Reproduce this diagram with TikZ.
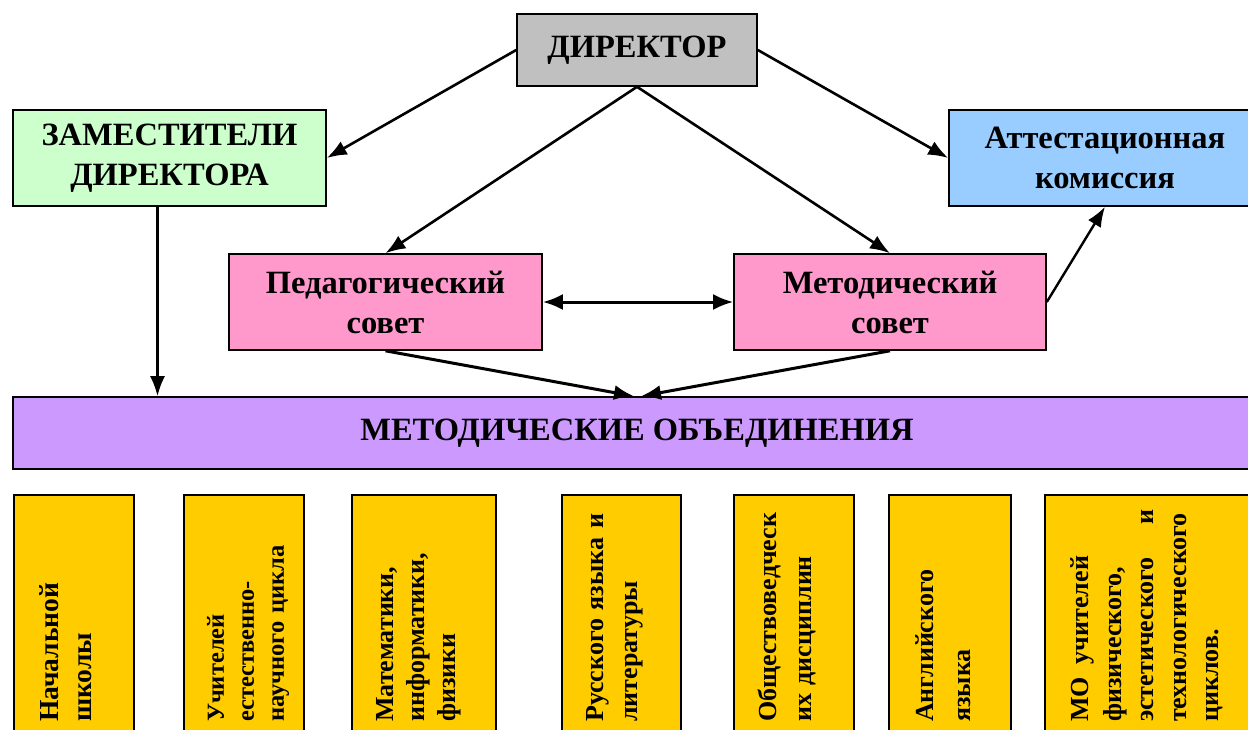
\documentclass[tikz,border=0pt]{standalone}
\usepackage{fontspec}
\setmainfont{Liberation Serif}
\usepackage{xcolor}
\usepackage{tikz}
\usetikzlibrary{positioning, calc, arrows.meta}
\definecolor{DirGray}{RGB}{192,192,192}
\definecolor{ZamGreen}{RGB}{204,255,204}
\definecolor{AttBlue}{RGB}{153,204,255}
\definecolor{SovPink}{RGB}{255,153,204}
\definecolor{ObViolet}{RGB}{204,153,255}
\definecolor{MoYellow}{RGB}{255,204,0}
\tikzset{
    topbox/.style={
        draw, line width=1.6pt, minimum width=313pt, minimum height=96pt,
        inner sep=0pt, align=center, font=\fontsize{32.5}{40}\selectfont\bfseries
    },
    mobox/.style={
        draw, line width=1.6pt, fill=MoYellow, minimum height=300pt,
        anchor=north west, inner sep=0pt
    },
    motext/.style={
        rotate=90, anchor=west, inner sep=0pt, text width=#1, align=left
    },
    motext/.default=212pt,
    mofont/.style={
        font=\fontsize{26}{#1}\selectfont\bfseries
    },
    ptr/.style={
        -{Latex[length=20pt,width=15pt]}, line width=2.6pt
    },
    dblptr/.style={
        {Latex[length=20pt,width=16pt]}-{Latex[length=20pt,width=16pt]}, line width=3pt
    }
}

\begin{document}
\begin{tikzpicture}[x=1pt, y=-1pt]
    \useasboundingbox (0,0) rectangle (1248,729);
    \clip (0,0) rectangle (1248,729);
    % top levels
    \node[topbox, fill=DirGray, minimum width=240pt, minimum height=72pt] (dir) at (637,50) {ДИРЕКТОР};
    \node[topbox, fill=ZamGreen] (zam) at (169.5,158) {ЗАМЕСТИТЕЛИ\\ДИРЕКТОРА};
    \node[topbox, fill=AttBlue, minimum width=312pt] (att) at (1105,158) {Аттестационная\\комиссия};
    \node[topbox, fill=SovPink] (ped) at (385.5,302) {Педагогический\\совет};
    \node[topbox, fill=SovPink, minimum width=312pt] (met) at (890,302) {Методический\\совет};
    \node[topbox, fill=ObViolet, minimum width=1248pt, minimum height=72pt] (ob) at (637,433) {МЕТОДИЧЕСКИЕ ОБЪЕДИНЕНИЯ};

    % connectors
    \draw[ptr] (dir.west) -- (zam.east);
    \draw[ptr] (dir.east) -- (att.west);
    \draw[ptr] (dir.south) -- (ped.north);
    \draw[ptr] (dir.south) -- (met.north);
    \draw[ptr, line width=2.4pt] ([xshift=-12pt]zam.south) -- ([xshift=-12pt]zam.south |- ob.north);
    \draw[ptr, line width=2.4pt] (met.east) -- (att.south);
    \draw[dblptr] (ped.east) -- (met.west);
    \draw[ptr, line width=3pt] (ped.south) -- ([xshift=-3pt]ob.north);
    \draw[ptr, line width=3pt] (met.south) -- ([xshift=4pt]ob.north);

    % methodical unions
    \node[mobox, minimum width=120pt] (mo1) at (13,494) {};
    \node[mobox, minimum width=120pt] (mo2) at (183,494) {};
    \node[mobox, minimum width=144pt] (mo3) at (351,494) {};
    \node[mobox, minimum width=119pt] (mo4) at (561,494) {};
    \node[mobox, minimum width=120pt] (mo5) at (733,494) {};
    \node[mobox, minimum width=122pt] (mo6) at (888,494) {};
    \node[mobox, minimum width=217pt] (mo7) at (1044,494) {};

    \node[motext, font=\fontsize{27.5}{33}\selectfont\bfseries] (t1) at (65.5,722) {Начальной\\школы};
    \node[motext, font=\fontsize{24.5}{30}\selectfont\bfseries] (t2) at (248,722) {Учителей\\естественно-\\научного цикла};
    \node[motext, mofont=31] (t3) at (419,722) {Математики,\\информатики,\\физики};
    \node[motext=208pt, mofont=34] (t4) at (615,722) {Русского языка\hfill и\\литературы};
    \node[motext, mofont=35] (t5) at (787,722) {Обществоведческ\\их дисциплин};
    \node[motext, mofont=37] (t6) at (943.5,722) {Английского\\языка};
    \node[motext, mofont=32.5] (t7) at (1147,722) {МО\enspace учителей\\физического,\\эстетического\hfill и\\технологического\\циклов.};
\end{tikzpicture}
\end{document}
